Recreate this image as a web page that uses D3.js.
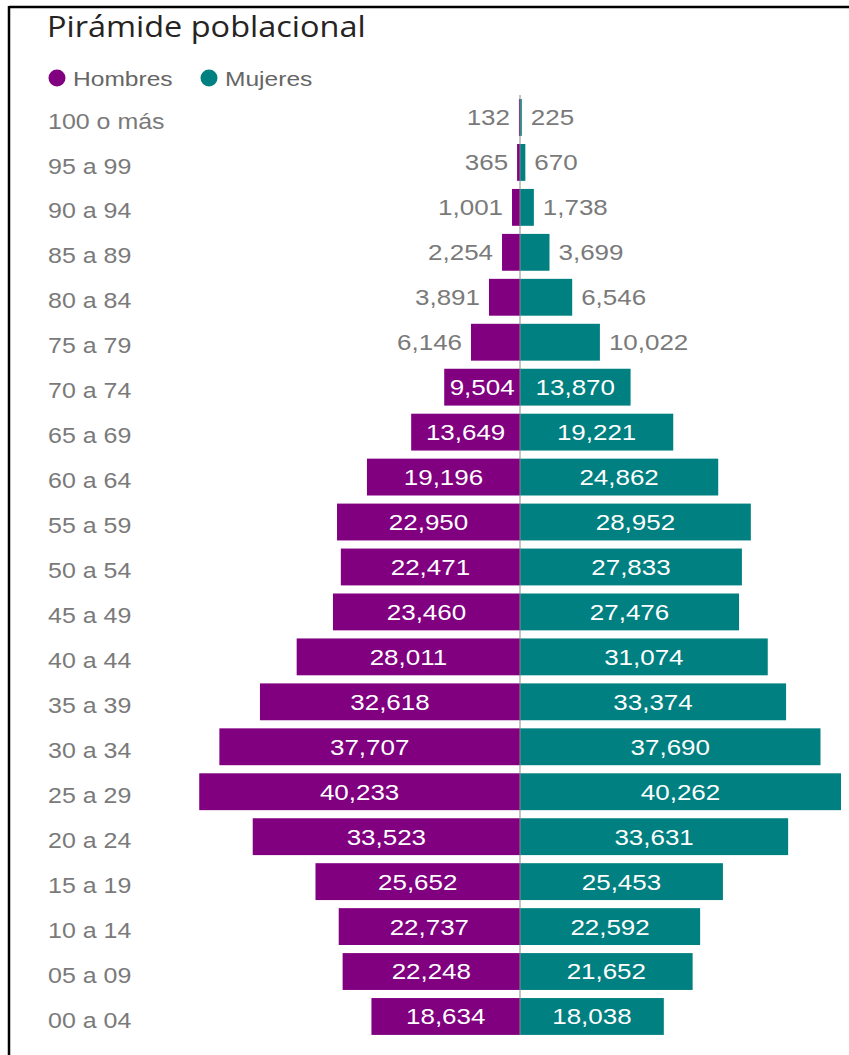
<!DOCTYPE html>
<html>
<head>
<meta charset="utf-8">
<script src="https://cdn.jsdelivr.net/npm/d3@7"></script>
<style>
  body { margin: 0; background: #fff; }
</style>
</head>
<body>
<div id="container"></div>
<script>
const width = 849;
const height = 1055;

const ageGroups = ["100 o más", "95 a 99", "90 a 94", "85 a 89", "80 a 84", "75 a 79", "70 a 74",
  "65 a 69", "60 a 64", "55 a 59", "50 a 54", "45 a 49", "40 a 44", "35 a 39", "30 a 34",
  "25 a 29", "20 a 24", "15 a 19", "10 a 14", "05 a 09", "00 a 04"];
const hombres = [132, 365, 1001, 2254, 3891, 6146, 9504, 13649, 19196, 22950, 22471, 23460,
  28011, 32618, 37707, 40233, 33523, 25652, 22737, 22248, 18634];
const mujeres = [225, 670, 1738, 3699, 6546, 10022, 13870, 19221, 24862, 28952, 27833, 27476,
  31074, 33374, 37690, 40262, 33631, 25453, 22592, 21652, 18038];
const seriesNames = ["Hombres", "Mujeres"];
const colors = ["#800080", "#008080"];

const center = 520;
const fmt = d3.format(",");

// the source screenshot is a bit stretched sideways, so text gets a horizontal scale
const place = (sel, X, Y, sx) => sel.attr("transform", `translate(${X},${Y}) scale(${sx},1)`);

const svg = d3.select("#container")
  .append("svg")
  .attr("width", width)
  .attr("height", height)
  .style("font-family", "'Liberation Sans', Arial, sans-serif");

// frame
svg.append("line").attr("x1", 9).attr("x2", width).attr("y1", 7).attr("y2", 7)
  .attr("stroke", "#000").attr("stroke-width", 2.5);
svg.append("line").attr("x1", 9).attr("x2", 9).attr("y1", 6).attr("y2", height)
  .attr("stroke", "#000").attr("stroke-width", 2.5);

svg.append("text")
  .attr("font-family", "'Open Sans', sans-serif")
  .attr("font-size", 29)
  .attr("fill", "#252423")
  .text("Pirámide poblacional")
  .call(place, 47, 37, 1.12);

// legend
const legend = svg.append("g");
const legX = [57, 209];
seriesNames.forEach((n, i) => {
  legend.append("circle").attr("cx", legX[i]).attr("cy", 78).attr("r", 8.5).attr("fill", colors[i]);
  legend.append("text")
    .attr("font-size", 21).attr("fill", "#666").text(n)
    .call(place, legX[i] + 16, 86, 1.17);
});

const y = d3.scaleBand()
  .domain(ageGroups)
  .range([95, 95 + 44.95 * ageGroups.length])
  .paddingInner(0.18)
  .paddingOuter(0.09);

const x = d3.scaleLinear()
  .domain([0, 40262])
  .range([0, 321]);

// category labels
svg.append("g").selectAll("text")
  .data(ageGroups)
  .join("text")
  .attr("dy", "0.36em")
  .attr("font-size", 22.5)
  .attr("fill", "#7a7a7a")
  .text(d => d)
  .each(function (d) {
    place(d3.select(this), 48, y(d) + y.bandwidth() / 2 + 3, 1.11);
  });

const rows = ageGroups.map((g, i) => ({ g, h: hombres[i], m: mujeres[i] }));

svg.append("g").selectAll("rect")
  .data(rows)
  .join("rect")
  .attr("x", d => center - x(d.h))
  .attr("y", d => y(d.g))
  .attr("width", d => x(d.h))
  .attr("height", y.bandwidth())
  .attr("fill", colors[0]);

svg.append("g").selectAll("rect")
  .data(rows)
  .join("rect")
  .attr("x", center)
  .attr("y", d => y(d.g))
  .attr("width", d => x(d.m))
  .attr("height", y.bandwidth())
  .attr("fill", colors[1]);

// center line
svg.append("line")
  .attr("x1", center).attr("x2", center)
  .attr("y1", y.range()[0]).attr("y2", y(ageGroups[ageGroups.length - 1]) + y.bandwidth())
  .attr("stroke", "#8a8a8a").attr("stroke-width", 1);

// value labels: inside if they fit, otherwise outside in grey
const labSx = 1.18;
function addLabels(key, side) {
  const g = svg.append("g");
  rows.forEach(d => {
    const v = d[key];
    const w = x(v);
    const cy = y(d.g) + y.bandwidth() / 2;
    const t = g.append("text")
      .attr("dy", "0.36em")
      .attr("font-size", 22)
      .text(fmt(v));
    const tw = t.node().getComputedTextLength() * labSx;
    if (tw + 4 <= w) {
      t.attr("text-anchor", "middle").attr("fill", "#fff")
        .call(place, center + side * w / 2, cy, labSx);
    } else {
      t.attr("text-anchor", side < 0 ? "end" : "start").attr("fill", "#7a7a7a")
        .call(place, center + side * (w + 9), cy, labSx);
    }
  });
}
addLabels("h", -1);
addLabels("m", 1);
</script>
</body>
</html>
